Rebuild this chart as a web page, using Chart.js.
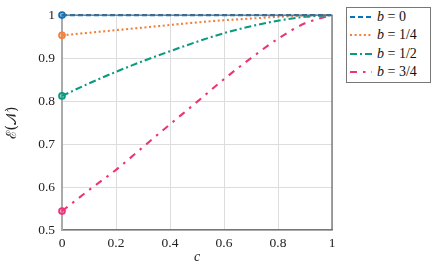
<!DOCTYPE html>
<html>
<head>
<meta charset="utf-8">
<script src="https://cdn.jsdelivr.net/npm/chart.js@4/dist/chart.umd.min.js"></script>
<style>
  html, body { margin: 0; padding: 0; background: #fff; }
  #wrap { position: relative; width: 433px; height: 269px; }
  #c { position: absolute; left: 0; top: 0; }
  #legend { position: absolute; left: 346px; top: 7px; width: 83px; height: 74px;
    border: 1px solid #777; background: #fff; font-family: 'Liberation Serif', 'DejaVu Serif', serif; font-size: 14px; color: #111; }
  .item { position: absolute; left: 0; height: 18px; display: flex; align-items: center; }
  .item svg { margin-left: 3px; margin-right: 5px; }
  .item i { font-style: italic; }
</style>
</head>
<body>
<div id="wrap">
  <canvas id="c" width="433" height="269"></canvas>
  <div id="legend"></div>
</div>
<script>
const cValues = [0, 0.1, 0.2, 0.3, 0.4, 0.5, 0.6, 0.7, 0.8, 0.9, 1];
const seriesB0   = [1, 1, 1, 1, 1, 1, 1, 1, 1, 1, 1];
const seriesB14  = [0.953, 0.959, 0.965, 0.971, 0.977, 0.983, 0.988, 0.992, 0.996, 0.999, 1];
const seriesB12  = [0.812, 0.841, 0.868, 0.893, 0.916, 0.938, 0.958, 0.974, 0.987, 0.996, 1];
const seriesB34  = [0.544, 0.593, 0.640, 0.693, 0.746, 0.798, 0.851, 0.900, 0.945, 0.981, 1];
const seriesLabels = ['0', '1/4', '1/2', '3/4'];
const xTicks = [0, 0.2, 0.4, 0.6, 0.8, 1];
const yTicks = [0.5, 0.6, 0.7, 0.8, 0.9, 1];

const colors = ['#0A72BA', '#F2803A', '#0A9A80', '#EE3479'];
const fills  = ['rgba(10,114,186,0.45)', 'rgba(242,128,58,0.45)', 'rgba(10,154,128,0.45)', 'rgba(238,52,121,0.45)'];
const dashes = [[5, 3], [2, 2.6], [7, 3, 2, 3], [7, 6, 2.5, 6]];
const allSeries = [seriesB0, seriesB14, seriesB12, seriesB34];

const datasets = allSeries.map((s, i) => ({
  label: 'b = ' + seriesLabels[i],
  data: cValues.map((c, j) => ({x: c, y: s[j]})),
  borderColor: colors[i],
  borderWidth: 2.1,
  borderDash: dashes[i],
  borderCapStyle: 'butt',
  cubicInterpolationMode: 'monotone',
  pointRadius: cValues.map((c, j) => j === 0 ? 3 : 0),
  pointBorderWidth: 1.7,
  pointBorderColor: colors[i],
  pointBackgroundColor: fills[i],
  fill: false,
  clip: false
}));

const boxPlugin = {
  id: 'box',
  afterDraw(chart) {
    const {ctx, chartArea: a} = chart;
    ctx.save();
    ctx.strokeStyle = '#666';
    ctx.lineWidth = 1.2;
    ctx.beginPath();
    ctx.moveTo(a.left, a.top);
    ctx.lineTo(a.right, a.top);
    ctx.lineTo(a.right, a.bottom);
    ctx.stroke();
    ctx.restore();
  }
};

const tickFont = {family: "'Liberation Serif', 'DejaVu Serif', serif", size: 13.5};

new Chart(document.getElementById('c'), {
  type: 'line',
  data: {datasets},
  options: {
    responsive: false,
    animation: false,
    layout: {padding: {top: 10, right: 101, left: 0, bottom: 0}},
    plugins: {legend: {display: false}, tooltip: {enabled: false}},
    scales: {
      x: {
        type: 'linear', min: 0, max: 1,
        afterBuildTicks(scale) { scale.ticks = xTicks.map(v => ({value: v})); },
        afterFit(scale) { scale.height = 39; },
        ticks: {font: tickFont, color: '#222', padding: 5, callback: v => String(v)},
        grid: {color: '#dddddd', lineWidth: 1, drawTicks: false},
        border: {color: '#777', width: 1.5},
        title: {display: true, text: 'c', font: {family: "'Liberation Serif', 'DejaVu Serif', serif", size: 14, style: 'italic'}, color: '#222', padding: {top: 0, bottom: 3}}
      },
      y: {
        type: 'linear', min: 0.5, max: 1,
        afterBuildTicks(scale) { scale.ticks = yTicks.map(v => ({value: v})); },
        afterFit(scale) { scale.width = 62; },
        ticks: {font: tickFont, color: '#222', padding: 7, callback: v => String(v)},
        grid: {color: '#dddddd', lineWidth: 1, drawTicks: false},
        border: {color: '#aaa', width: 2},
        title: {display: true, text: 'ℰ(𝒩)', font: {family: "'DejaVu Serif', 'Liberation Serif', serif", size: 14}, color: '#222', padding: {top: 4, bottom: 4}}
      }
    }
  },
  plugins: [boxPlugin]
});

// HTML legend built from the same series styles
const leg = document.getElementById('legend');
const tops = [0, 18, 37, 55];
seriesLabels.forEach((lab, i) => {
  const d = document.createElement('div');
  d.className = 'item';
  d.style.top = tops[i] + 'px';
  d.innerHTML = '<svg width="22" height="6"><line x1="0" y1="3" x2="22" y2="3" stroke="' + colors[i] +
    '" stroke-width="2" stroke-dasharray="' + dashes[i].join(',') + '"/></svg><span><i>b</i> = ' + lab + '</span>';
  leg.appendChild(d);
});
</script>
</body>
</html>
